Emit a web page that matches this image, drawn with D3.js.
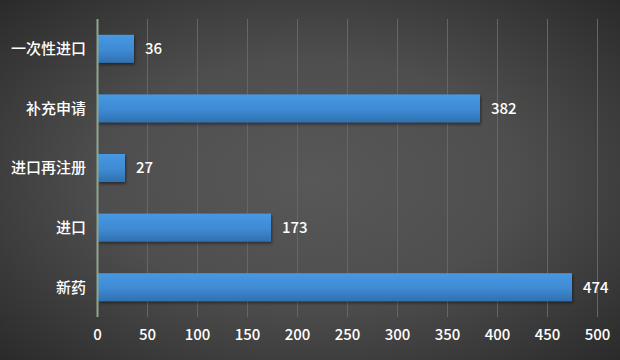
<!DOCTYPE html>
<html>
<head>
<meta charset="utf-8">
<script src="https://cdn.jsdelivr.net/npm/d3@7"></script>
<style>
  body { margin: 0; background: #2a2a2a; }
  svg { display: block; }
</style>
</head>
<body>
<div id="chart"></div>
<script>
const categories = ['一次性进口', '补充申请', '进口再注册', '进口', '新药']
const values = [36, 382, 27, 173, 474]
const ticks = [0, 50, 100, 150, 200, 250, 300, 350, 400, 450, 500]

const width = 620
const height = 360
const margin = { top: 19, right: 22, bottom: 43, left: 98 }
const font = '"Noto Sans CJK SC", "Noto Sans", sans-serif'

const svg = d3
  .select('#chart')
  .append('svg')
  .attr('width', width)
  .attr('height', height)

const defs = svg.append('defs')

// background: lighter in the middle, dark at the corners
const bg = defs
  .append('radialGradient')
  .attr('id', 'bg')
  .attr('cx', '50%')
  .attr('cy', '50%')
  .attr('r', '75%')
bg.append('stop').attr('offset', '0%').attr('stop-color', '#585858')
bg.append('stop').attr('offset', '45%').attr('stop-color', '#4e4e4e')
bg.append('stop').attr('offset', '100%').attr('stop-color', '#262626')

const barGrad = defs
  .append('linearGradient')
  .attr('id', 'bar')
  .attr('x1', 0)
  .attr('y1', 0)
  .attr('x2', 0)
  .attr('y2', 1)
barGrad.append('stop').attr('offset', '0%').attr('stop-color', '#4699e2')
barGrad.append('stop').attr('offset', '55%').attr('stop-color', '#3f8ad3')
barGrad.append('stop').attr('offset', '100%').attr('stop-color', '#3070b0')

const shadow = defs.append('filter').attr('id', 'shadow').attr('height', '160%')
shadow
  .append('feDropShadow')
  .attr('dx', 1)
  .attr('dy', 2)
  .attr('stdDeviation', 1.5)
  .attr('flood-color', '#000')
  .attr('flood-opacity', 0.45)

svg.append('rect').attr('width', width).attr('height', height).attr('fill', 'url(#bg)')

const x = d3
  .scaleLinear()
  .domain([0, 500])
  .range([margin.left, width - margin.right])

const y = d3
  .scaleBand()
  .domain(categories)
  .range([margin.top, height - margin.bottom])
  .paddingInner(0.53)
  .paddingOuter(0.265)

// grid lines
svg
  .append('g')
  .selectAll('line')
  .data(ticks.slice(1))
  .join('line')
  .attr('x1', (d) => x(d) - 0.5)
  .attr('x2', (d) => x(d) - 0.5)
  .attr('y1', margin.top)
  .attr('y2', height - margin.bottom)
  .attr('stroke', '#666666')
  .attr('stroke-width', 1)

// bars
svg
  .append('g')
  .selectAll('rect')
  .data(values)
  .join('rect')
  .attr('x', x(0))
  .attr('y', (d, i) => y(categories[i]))
  .attr('width', (d) => x(d) - x(0))
  .attr('height', y.bandwidth())
  .attr('fill', 'url(#bar)')
  .attr('filter', 'url(#shadow)')

// value labels
svg
  .append('g')
  .selectAll('text')
  .data(values)
  .join('text')
  .attr('x', (d) => x(d) + 11)
  .attr('y', (d, i) => y(categories[i]) + y.bandwidth() / 2)
  .attr('dy', '0.36em')
  .attr('fill', '#ffffff')
  .style('font-family', font)
  .style('font-weight', 500)
  .style('font-size', '15px')
  .text((d) => d)

// category labels
svg
  .append('g')
  .selectAll('text')
  .data(categories)
  .join('text')
  .attr('x', margin.left - 12)
  .attr('y', (d) => y(d) + y.bandwidth() / 2)
  .attr('dy', '0.36em')
  .attr('text-anchor', 'end')
  .attr('fill', '#ffffff')
  .style('font-family', font)
  .style('font-weight', 500)
  .style('font-size', '15px')
  .text((d) => d)

// x axis tick labels
const xAxis = d3.axisBottom(x).tickValues(ticks).tickSize(0).tickPadding(12)
const axisG = svg
  .append('g')
  .attr('transform', `translate(-1,${height - margin.bottom})`)
  .call(xAxis)
axisG.select('.domain').remove()
axisG
  .selectAll('text')
  .attr('fill', '#ffffff')
  .style('font-family', font)
  .style('font-weight', 500)
  .style('font-size', '15px')

// left axis line
svg
  .append('line')
  .attr('x1', x(0) - 0.5)
  .attr('x2', x(0) - 0.5)
  .attr('y1', margin.top)
  .attr('y2', height - margin.bottom)
  .attr('stroke', '#8fa68f')
  .attr('stroke-width', 2)
</script>
</body>
</html>
